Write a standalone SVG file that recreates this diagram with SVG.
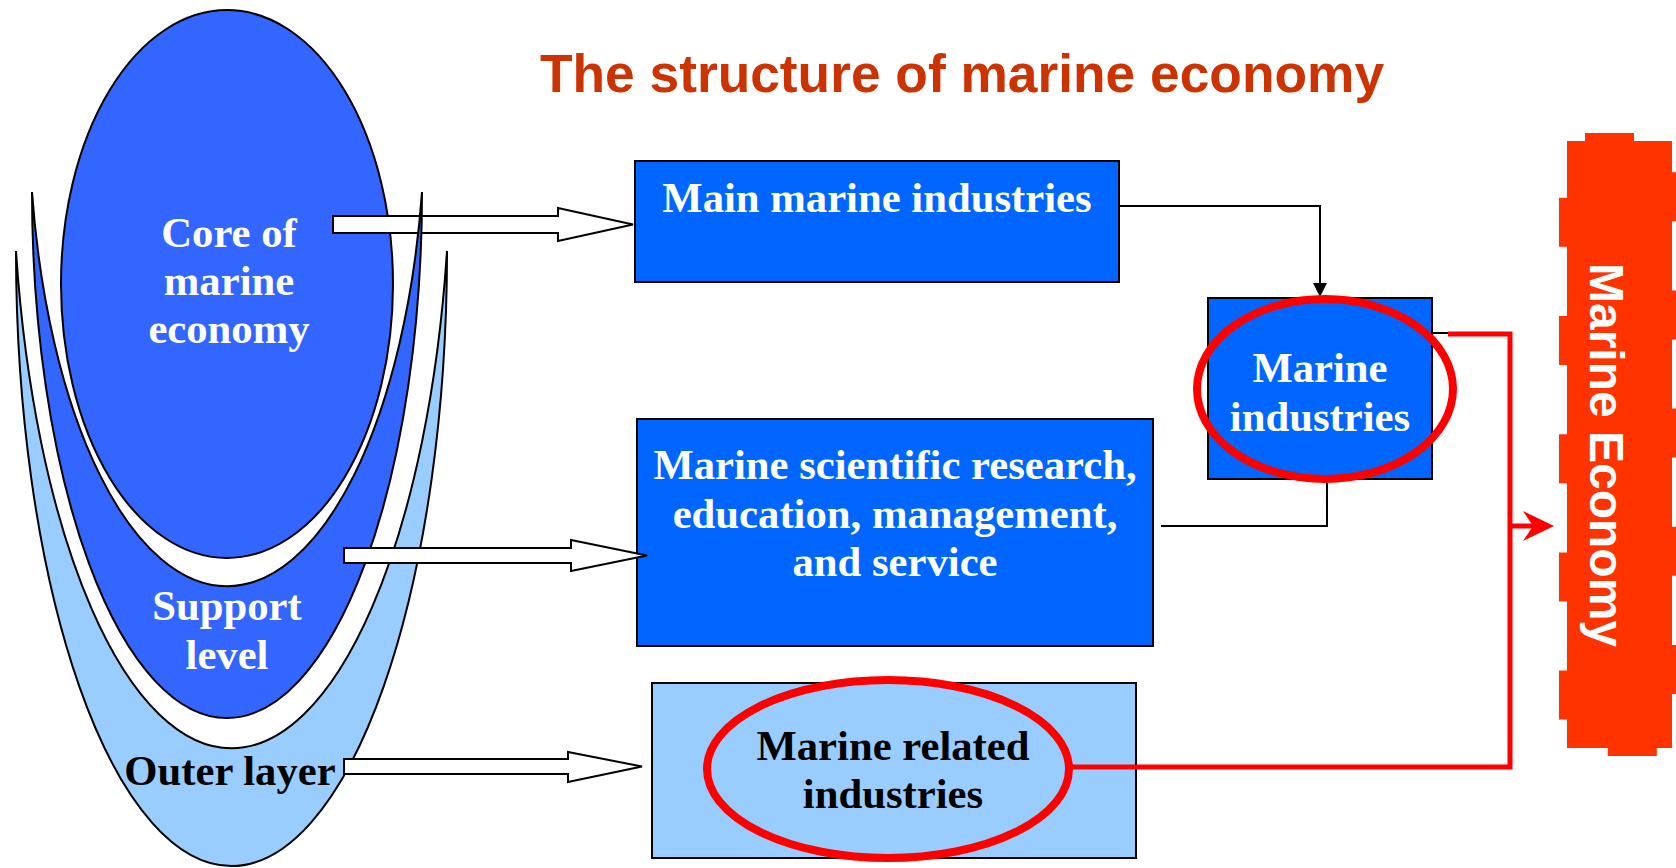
<svg xmlns="http://www.w3.org/2000/svg" width="1676" height="868" viewBox="0 0 1676 868">
<style>
.ser{font-family:"Liberation Serif","Times New Roman",serif;font-weight:bold;font-size:42.7px;text-anchor:middle}
.w{fill:#FFFFFF}
.k{fill:#000000}
.box{stroke:#000;stroke-width:2}
.blk{fill:#fff;stroke:#000;stroke-width:2;stroke-linejoin:miter}
.shape{stroke:#000;stroke-width:2}
.red{fill:none;stroke:#FF0000;stroke-width:5}
.ring{fill:none;stroke:#FF0000;stroke-width:8}
.thin{fill:none;stroke:#000;stroke-width:2}
</style>
<rect width="1676" height="868" fill="#fff"/>
<text x="962" y="92" fill="#CC3300" style="font-family:'Liberation Sans',Arial,sans-serif;font-weight:bold;font-size:53.3px;text-anchor:middle">The structure of marine economy</text>

<g id="core">
<ellipse cx="227" cy="284" rx="166" ry="274" fill="#3366FF" class="shape"/>
</g>
<g id="arrow-core">
<path class="blk" d="M333,216 H558 V208 L633,224.5 L558,241 V233 H333 Z"/>
</g>
<g id="outer-layer">
<path class="shape" fill="#99CCFF" d="M16,251 A215.5,615 0 0 0 447,251 A219,605 0 0 1 16,251 Z"/>
</g>
<g id="support-level">
<path class="shape" fill="#3366FF" d="M32,192 A195,526 0 0 0 422,192 A198,477 0 0 1 32,192 Z"/>
</g>
<g id="core-label">
<text class="ser w" x="229" y="247">Core of</text>
<text class="ser w" x="229" y="295">marine</text>
<text class="ser w" x="229" y="343">economy</text>
</g>
<g id="support-label">
<text class="ser w" x="227" y="620">Support</text>
<text class="ser w" x="227" y="669">level</text>
</g>
<g id="outer-label">
<text class="ser k" x="230" y="785">Outer layer</text>
</g>

<g id="main-marine-industries">
<rect class="box" x="635" y="161" width="484" height="121" fill="#0066FF"/>
<text class="ser w" x="877" y="212">Main marine industries</text>
</g>
<g id="research">
<rect class="box" x="637" y="419" width="516" height="227" fill="#0066FF"/>
<text class="ser w" x="895" y="479">Marine scientific research,</text>
<text class="ser w" x="895" y="528">education, management,</text>
<text class="ser w" x="895" y="576">and service</text>
</g>
<g id="marine-industries">
<rect class="box" x="1208" y="298" width="224" height="181" fill="#0066FF"/>
<text class="ser w" x="1320" y="382">Marine</text>
<text class="ser w" x="1320" y="431">industries</text>
</g>
<g id="marine-related">
<rect class="box" x="652" y="683" width="484" height="175" fill="#99CCFF"/>
<text class="ser k" x="893" y="760">Marine related</text>
<text class="ser k" x="893" y="808">industries</text>
</g>
<g id="marine-economy">
<rect x="1567" y="141" width="105" height="607" fill="#FF3300"/>
<rect x="1567" y="141" width="105" height="607" fill="none" stroke="#FF3300" stroke-width="16" stroke-dasharray="49 69.2" stroke-dashoffset="-18"/>
<text transform="translate(1590,455) rotate(90)" fill="#fff" style="font-family:'Liberation Sans',Arial,sans-serif;font-weight:bold;font-size:48px;text-anchor:middle">Marine Economy</text>
</g>

<g id="connectors">
<path class="blk" d="M344,548 H571 V540 L647,555.5 L571,571 V563 H344 Z"/>
<path class="blk" d="M344,759 H568 V752 L642,766.5 L568,782 V774 H344 Z"/>
<polyline class="thin" points="1119,206 1320,206 1320,285"/>
<polygon points="1313,283 1327,283 1320,297" fill="#000"/>
<polyline class="thin" points="1161,526 1327,526 1327,479"/>
<line class="thin" x1="1432" y1="333" x2="1450" y2="333"/>
<ellipse class="ring" cx="1325" cy="389" rx="128" ry="90"/>
<ellipse class="ring" cx="888" cy="769" rx="181" ry="89"/>
<polyline class="red" points="1448,334 1510,334 1510,767 1069,767"/>
<line class="red" x1="1510" y1="526" x2="1540" y2="526"/>
<polygon points="1554,526 1523,511 1533,526 1523,541" fill="#FF0000"/>
</g>
</svg>
